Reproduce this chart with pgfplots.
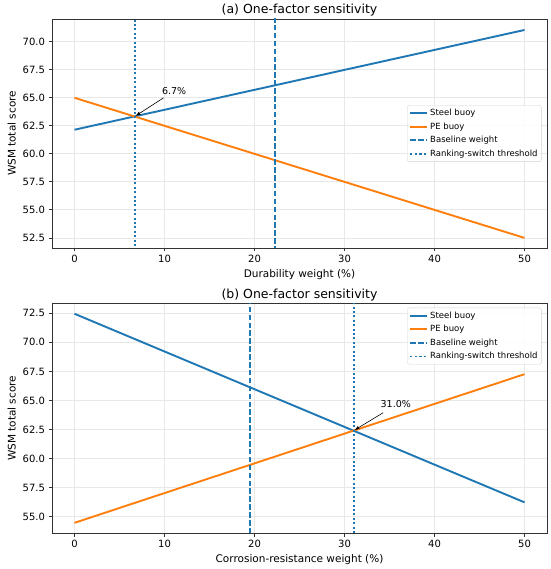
\documentclass[border=0pt]{standalone}
\usepackage{fontspec}
\setmainfont{DejaVu Sans}
\usepackage{pgfplots}
\pgfplotsset{compat=1.18}
\usetikzlibrary{arrows.meta}
\definecolor{c0}{HTML}{1F77B4}
\definecolor{c1}{HTML}{FF7F0E}
\pgfplotsset{mystyle/.style={
  scale only axis, width=495pt,
  xmin=-2.5, xmax=52.5,
  xtick={0,10,20,30,40,50},
  axis line style={draw=black!80, line width=0.8pt},
  every tick/.style={draw=black!80, line width=0.8pt},
  tick align=outside, tick pos=left, major tick length=3.5pt,
  grid=major, grid style={draw=gray!18, line width=0.8pt},
  ticklabel style={font=\fontsize{10}{12}\selectfont},
  label style={font=\fontsize{10.5}{12}\selectfont},
  title style={font=\fontsize{12.5}{14}\selectfont, yshift=-7pt},
  /pgf/number format/assume math mode=true,
  yticklabel style={/pgf/number format/.cd, fixed, fixed zerofill, precision=1},
  legend style={font=\fontsize{8.5}{10}\selectfont, draw=gray!35, rounded corners=2pt,
    fill=white, fill opacity=0.85, text opacity=1, draw opacity=1, inner sep=2pt,
    row sep=2pt,
    nodes={inner sep=1.8pt, text height=6.5pt, text depth=1.5pt}},
  legend cell align=left,
  basel/.style={draw=c0, line width=1.6pt, dash pattern=on 5.5pt off 2.4pt},
  thresh/.style={draw=c0, line width=1.8pt, line cap=butt, dash pattern=on 2pt off 2.4pt},
}}
\begin{document}
\begin{tikzpicture}
\useasboundingbox (-52pt,-35.7pt) rectangle (498pt,533.3pt);
% top axis
\begin{axis}[mystyle, at={(0pt,285.3pt)}, anchor=south west, height=229pt,
  ymin=51.6, ymax=72.03,
  ytick={52.5,55,57.5,60,62.5,65,67.5,70},
  title={(a) One-factor sensitivity},
  xlabel={Durability weight (\%)}, ylabel={WSM total score},
  legend style={at={(0.989,0.5)}, anchor=east}]
\addplot[draw=c0, line width=1.9pt] coordinates {(0,62.15) (50,71.05)};
\addlegendentry{Steel buoy}
\addplot[draw=c1, line width=1.9pt] coordinates {(0,65.0) (50,52.5)};
\addlegendentry{PE buoy}
\addplot[basel] coordinates {(22.25,40) (22.25,80)};
\addlegendentry{Baseline weight}
\addplot[thresh] coordinates {(6.72,40) (6.72,80)};
\addlegendentry{Ranking-switch threshold}
\draw[-{Latex[length=5pt,width=3.5pt]}, line width=0.6pt] (axis cs:9.9,65.0) -- (axis cs:6.78,63.38);
\node[anchor=base west, inner sep=0pt, font=\fontsize{9.5}{11}\selectfont] at (axis cs:9.7,65.3) {6.7\%};
\end{axis}
% bottom axis
\begin{axis}[mystyle, at={(0pt,0pt)}, anchor=south west, height=230pt,
  ymin=53.59, ymax=73.35,
  ytick={55,57.5,60,62.5,65,67.5,70,72.5},
  title={(b) One-factor sensitivity},
  xlabel={Corrosion-resistance weight (\%)}, ylabel={WSM total score},
  legend style={at={(0.989,0.981)}, anchor=north east}]
\addplot[draw=c0, line width=1.9pt] coordinates {(0,72.45) (50,56.25)};
\addlegendentry{Steel buoy}
\addplot[draw=c1, line width=1.9pt] coordinates {(0,54.49) (50,67.26)};
\addlegendentry{PE buoy}
\addplot[basel] coordinates {(19.5,40) (19.5,80)};
\addlegendentry{Baseline weight}
\addplot[thresh] coordinates {(31.05,40) (31.05,80)};
\addlegendentry{Ranking-switch threshold}
\draw[-{Latex[length=5pt,width=3.5pt]}, line width=0.6pt] (axis cs:34.3,63.95) -- (axis cs:31.1,62.45);
\node[anchor=base west, inner sep=0pt, font=\fontsize{9.5}{11}\selectfont] at (axis cs:34.0,64.4) {31.0\%};
\end{axis}
\end{tikzpicture}
\end{document}
